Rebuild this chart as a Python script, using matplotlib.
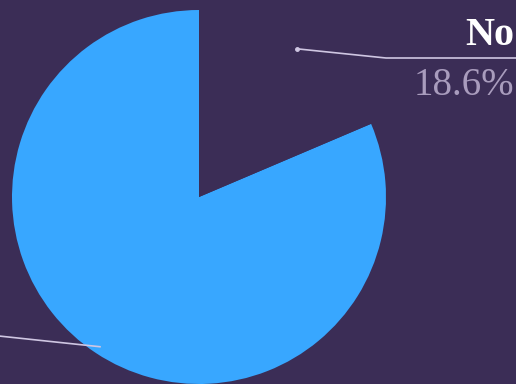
import numpy as np
import matplotlib
matplotlib.use("Agg")
import matplotlib.pyplot as plt

labels = ["Yes", "No"]
values = [81.4, 18.6]
colors = ["#38a7ff", "#3b2d56"]

bg = "#3b2d56"
W, H = 516, 384

fig = plt.figure(figsize=(W / 100, H / 100), dpi=100, facecolor=bg)
ax = fig.add_axes([0, 0, 1, 1])
ax.set_facecolor(bg)

cx, cy, R = 199, H - 197, 187
wedges, _ = ax.pie(values, colors=colors, startangle=90, counterclock=True,
                   center=(cx, cy), radius=R, frame=True,
                   wedgeprops=dict(linewidth=0))
ax.set_xlim(0, W)
ax.set_ylim(0, H)
ax.set_aspect("equal")
ax.axis("off")

line_c = "#cfc6e2"

# leader line for "No" (anchor on slice mid angle)
w = wedges[1]
mid = np.deg2rad((w.theta1 + w.theta2) / 2)
ax0 = cx + 0.95 * R * np.cos(mid)
ay0 = cy + 0.95 * R * np.sin(mid)
ax.plot([ax0, 386, W + 5], [ay0, H - 58, H - 58], color=line_c, lw=1.2,
        solid_capstyle="round", clip_on=False)
ax.plot([ax0], [ay0], "o", ms=2.5, color=line_c)
ax.text(514, H - 45, labels[1], ha="right", va="baseline", color="white",
        fontsize=29, fontweight="bold", family="Liberation Serif")
ax.text(514, H - 95, f"{values[1]}%", ha="right", va="baseline", color="#a99cbd",
        fontsize=28, family="Liberation Serif")

# leader line for "Yes" (label falls outside the canvas)
w = wedges[0]
mid = np.deg2rad((w.theta1 + w.theta2) / 2)
bx0 = cx + 0.96 * R * np.cos(mid)
by0 = cy + 0.96 * R * np.sin(mid)
ax.plot([bx0, -20], [by0, H - 334], color=line_c, lw=1.2)

fig.savefig("out.png", dpi=100, facecolor=bg)
